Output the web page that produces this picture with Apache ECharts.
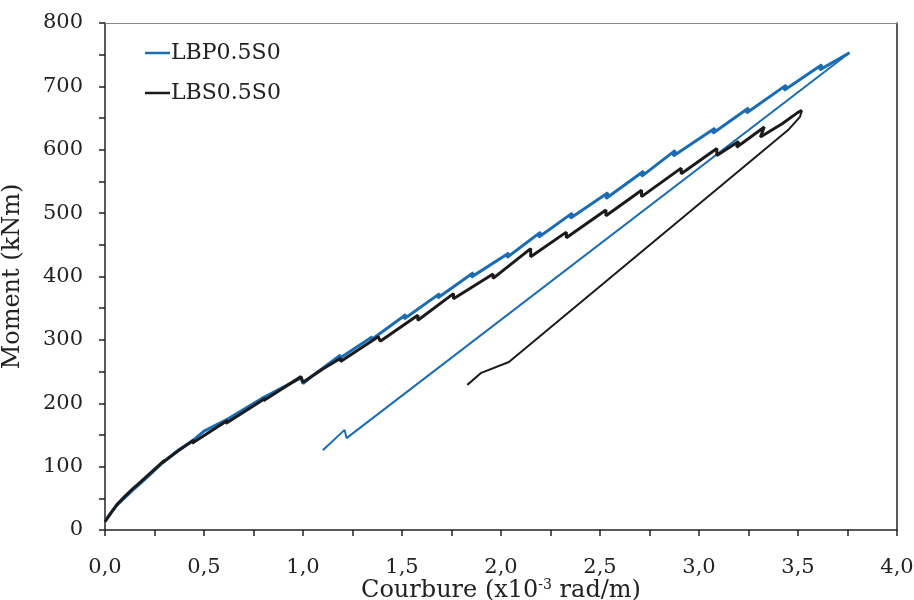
<!DOCTYPE html>
<html><head><meta charset="utf-8">
<script src="https://cdn.jsdelivr.net/npm/echarts@6/dist/echarts.min.js"></script>
<style>html,body{margin:0;padding:0;background:#fff}#c{width:914px;height:600px}</style>
</head><body><div id="c"></div>
<script>
// Tick values
const xTicks = [0, 0.5, 1, 1.5, 2, 2.5, 3, 3.5, 4];
const yTicks = [0, 100, 200, 300, 400, 500, 600, 700, 800];

// LBP0.5S0 (blue) loading branch
const lbpLoadCurv = [0, 0.03, 0.06, 0.10, 0.14, 0.18, 0.23, 0.30, 0.37, 0.45, 0.50, 0.62, 0.80, 0.99, 1.00, 1.05, 1.19, 1.18, 1.35, 1.34, 1.52, 1.51, 1.69, 1.68, 1.86, 1.85, 2.04, 2.03, 2.20, 2.19, 2.36, 2.35, 2.54, 2.53, 2.72, 2.71, 2.88, 2.87, 3.08, 3.07, 3.25, 3.24, 3.44, 3.43, 3.62, 3.61, 3.76];
const lbpLoadMom  = [14, 27, 39, 51, 63, 74, 88, 109, 126, 143, 156, 175, 209, 240, 231, 244, 276, 270, 305, 299, 340, 333, 373, 366, 406, 399, 437, 430, 470, 462, 500, 492, 532, 523, 566, 558, 599, 590, 634, 626, 666, 658, 702, 694, 734, 726, 753];
// LBP0.5S0 unloading branch
const lbpUnloadCurv = [3.76, 1.22, 1.21, 1.10];
const lbpUnloadMom  = [753, 145, 158, 126];

// LBS0.5S0 (black) loading branch
const lbsLoadCurv = [0, 0.03, 0.06, 0.10, 0.14, 0.18, 0.23, 0.30, 0.29, 0.37, 0.45, 0.44, 0.62, 0.61, 0.81, 0.80, 0.99, 1.00, 1.10, 1.19, 1.19, 1.38, 1.39, 1.58, 1.58, 1.76, 1.76, 1.96, 1.96, 2.15, 2.15, 2.33, 2.33, 2.53, 2.53, 2.71, 2.71, 2.91, 2.91, 3.09, 3.09, 3.20, 3.19, 3.33, 3.31, 3.42, 3.50, 3.52];
const lbsLoadMom  = [13, 27, 40, 53, 65, 76, 90, 110, 106, 125, 142, 137, 173, 168, 208, 204, 242, 233, 254, 271, 266, 305, 298, 339, 331, 373, 365, 404, 397, 444, 431, 470, 461, 505, 496, 536, 526, 571, 562, 602, 591, 613, 604, 636, 620, 641, 659, 662];
// LBS0.5S0 unloading branch
const lbsUnloadCurv = [3.52, 3.51, 3.45, 2.04, 1.90, 1.83];
const lbsUnloadMom  = [662, 652, 631, 265, 248, 229];

const zip = (a, b) => a.map((v, i) => [v, b[i]]);
const BLUE = '#1a6db5', BLACK = '#1c1a1a';
const FONT = 'DejaVu Serif';
const TXT = '#222';

const chart = echarts.init(document.getElementById('c'), null, {renderer: 'canvas'});
chart.setOption({
  animation: false,
  backgroundColor: '#fff',
  grid: {left: 105, right: 17, top: 23, bottom: 70, containLabel: false, outerBoundsMode: 'none'},
  legend: {
    orient: 'vertical', left: 140, top: 37, itemWidth: 25, itemHeight: 2.5, itemGap: 18,
    data: [{name: 'LBP0.5S0', icon: 'rect'}, {name: 'LBS0.5S0', icon: 'rect'}],
    textStyle: {fontFamily: FONT, fontSize: 22, color: TXT, padding: [0, 0, 0, -4]}
  },
  xAxis: [{
    type: 'value', min: xTicks[0], max: xTicks[xTicks.length - 1], interval: 0.5,
    name: '{a|Courbure (x10}{s|-3}{a| rad/m)}', nameLocation: 'middle', nameGap: 48,
    nameMoveOverlap: false,
    nameTextStyle: {rich: {
      a: {fontFamily: FONT, fontSize: 24, color: TXT},
      s: {fontFamily: FONT, fontSize: 14, color: TXT, verticalAlign: 'top', padding: [0, 0, 12, 0]}
    }},
    axisLine: {onZero: false, lineStyle: {color: TXT, width: 1.5}},
    axisTick: {show: true, inside: false, length: 6, lineStyle: {color: TXT, width: 1.5}},
    minorTick: {show: true, splitNumber: 2, length: 6, lineStyle: {color: TXT, width: 1.5}},
    splitLine: {show: false},
    axisLabel: {fontFamily: FONT, fontSize: 21, color: TXT, margin: 27,
      formatter: v => v.toFixed(1).replace('.', ',')}
  }, {
    type: 'value', position: 'top', min: 0, max: 4,
    axisLine: {show: true, onZero: false, lineStyle: {color: '#8a8a8a', width: 1.2}},
    axisTick: {show: false}, axisLabel: {show: false}, splitLine: {show: false}
  }],
  yAxis: [{
    type: 'value', min: yTicks[0], max: yTicks[yTicks.length - 1], interval: 100,
    name: 'Moment (kNm)', nameLocation: 'middle', nameGap: 80, nameMoveOverlap: false,
    nameTextStyle: {fontFamily: FONT, fontSize: 24, color: TXT},
    axisLine: {show: true, onZero: false, lineStyle: {color: TXT, width: 1.5}},
    axisTick: {show: true, inside: false, length: 6, lineStyle: {color: TXT, width: 1.5}},
    minorTick: {show: true, splitNumber: 2, length: 6, lineStyle: {color: TXT, width: 1.5}},
    splitLine: {show: false},
    axisLabel: {fontFamily: FONT, fontSize: 21, color: TXT, margin: 22}
  }, {
    type: 'value', position: 'right', min: 0, max: 800,
    axisLine: {show: true, onZero: false, lineStyle: {color: TXT, width: 1.5}},
    axisTick: {show: false}, axisLabel: {show: false}, splitLine: {show: false}
  }],
  series: [
    {name: 'LBP0.5S0', type: 'line', symbol: 'none', data: zip(lbpLoadCurv, lbpLoadMom),
     lineStyle: {color: BLUE, width: 3}, itemStyle: {color: BLUE}, z: 3},
    {name: 'LBP0.5S0', type: 'line', symbol: 'none', data: zip(lbpUnloadCurv, lbpUnloadMom),
     lineStyle: {color: BLUE, width: 2}, itemStyle: {color: BLUE}, z: 3},
    {name: 'LBS0.5S0', type: 'line', symbol: 'none', data: zip(lbsLoadCurv, lbsLoadMom),
     lineStyle: {color: BLACK, width: 3}, itemStyle: {color: BLACK}, z: 4},
    {name: 'LBS0.5S0', type: 'line', symbol: 'none', data: zip(lbsUnloadCurv, lbsUnloadMom),
     lineStyle: {color: BLACK, width: 2}, itemStyle: {color: BLACK}, z: 4}
  ]
});
</script></body></html>
